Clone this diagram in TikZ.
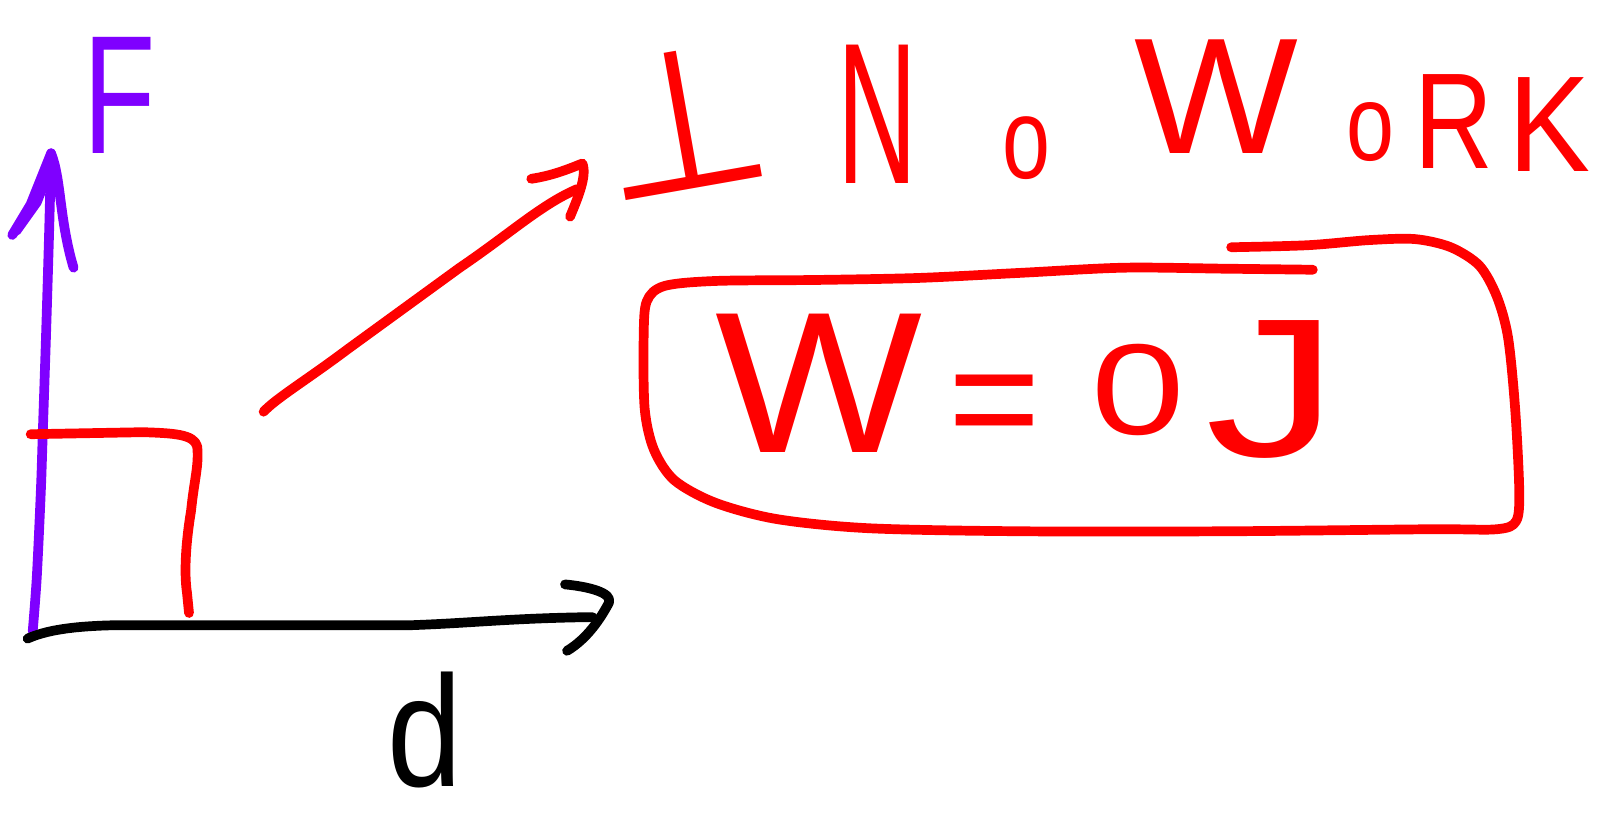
\documentclass[tikz,border=0pt]{standalone}
\usepackage{fontspec}
\setmainfont{Liberation Sans}
\newfontfamily\symfont{DejaVu Sans}
\usepackage{graphicx}
\definecolor{pen}{RGB}{255,0,0}
\definecolor{violetpen}{RGB}{127,0,255}
\newcommand{\gl}[3]{{\fontsize{#1}{#1}\selectfont\scalebox{#2}[1]{#3}}}
\begin{document}
\begin{tikzpicture}[x=0.01cm,y=-0.01cm,
  stroke/.style={line width=2.7pt,line cap=round,line join=round},
  txt/.style={inner sep=0pt,outer sep=0pt}]
\useasboundingbox (0,0) rectangle (1568,808);

% F axis (purple)
\draw[stroke,violetpen] plot[smooth] coordinates {(32,618)(36,565)(40,480)(42,420)(45,330)(48,230)(50,150)};
\draw[stroke,violetpen] (12,230) -- (30,200) -- (50,150) .. controls (60,175) and (58,215) .. (72,262);
\draw[stroke,violetpen] (16,226) -- (36,198) -- (49,165);
\node[txt,anchor=base west,text=violetpen] (F) at (82,150) {\gl{47}{0.7}{F}};

% d axis (black)
\draw[stroke,black] (27,625) .. controls (45,617) and (70,613) .. (110,612) -- (400,612) .. controls (460,610) and (500,605) .. (580,604);
\draw[stroke,black] (553,572) .. controls (575,574) and (600,580) .. (596,590) .. controls (588,605) and (575,625) .. (555,637);
\node[txt,anchor=base west,text=black] (d) at (379,770) {\gl{44}{0.85}{d}};

% red step
\draw[stroke,pen] (30,425) -- (140,423) .. controls (170,424) and (190,425) .. (193,437) .. controls (195,455) and (190,470) .. (187,500) .. controls (182,530) and (180,560) .. (183,580) -- (185,600);

% red arrow
\draw[stroke,pen] (258,403) .. controls (270,390) and (300,372) .. (340,342) -- (450,262) .. controls (500,228) and (530,200) .. (565,185);
\draw[stroke,pen] (520,175) .. controls (540,172) and (555,166) .. (570,160) .. controls (575,172) and (565,195) .. (558,212);

% perpendicular sign and "No Work"
\node[txt,text=pen,rotate=10] (perp) at (668,118) {\symfont\fontsize{55}{55}\selectfont ⊥};
\node[txt,anchor=base west,text=pen] (no) at (820,180) {\gl{56}{0.55}{N}\hspace{23.7pt}\raisebox{1.4pt}{\gl{32}{0.75}{o}}};
\node[txt,anchor=base west,text=pen] (work) at (1110,150) {\gl{46}{1.05}{W}\hspace{13.4pt}\raisebox{-2pt}{\gl{30}{0.8}{o}}\hspace{5.6pt}\raisebox{-4.3pt}{\gl{38}{0.8}{R}}\hspace{4.4pt}\raisebox{-5.1pt}{\gl{38}{0.9}{K}}};

% box
\draw[stroke,pen] plot[smooth] coordinates {(1285,264)(1200,263)(1100,262)(1000,267)(900,272)(800,274)(700,275)(650,280)(633,295)(630,330)(631,400)(640,440)(660,470)(700,492)(760,508)(850,517)(1000,520)(1200,520)(1400,518)(1465,518)(1484,510)(1487,480)(1483,400)(1476,330)(1465,290)(1448,260)(1420,242)(1385,234)(1340,235)(1280,240)(1205,242)};

% W = 0 J
\node[txt,anchor=base west,text=pen] (W) at (700,443) {\gl{56}{1.09}{W}};
\node[txt,anchor=base west,text=pen] (eq) at (928,443) {\gl{44}{1}{=}};
\node[txt,anchor=base west,text=pen] (zero) at (1068,425) {\gl{36}{1.3}{0}};
\node[txt,anchor=base west,text=pen] (J) at (1180,447) {\gl{55}{1.35}{J}};
\end{tikzpicture}
\end{document}
